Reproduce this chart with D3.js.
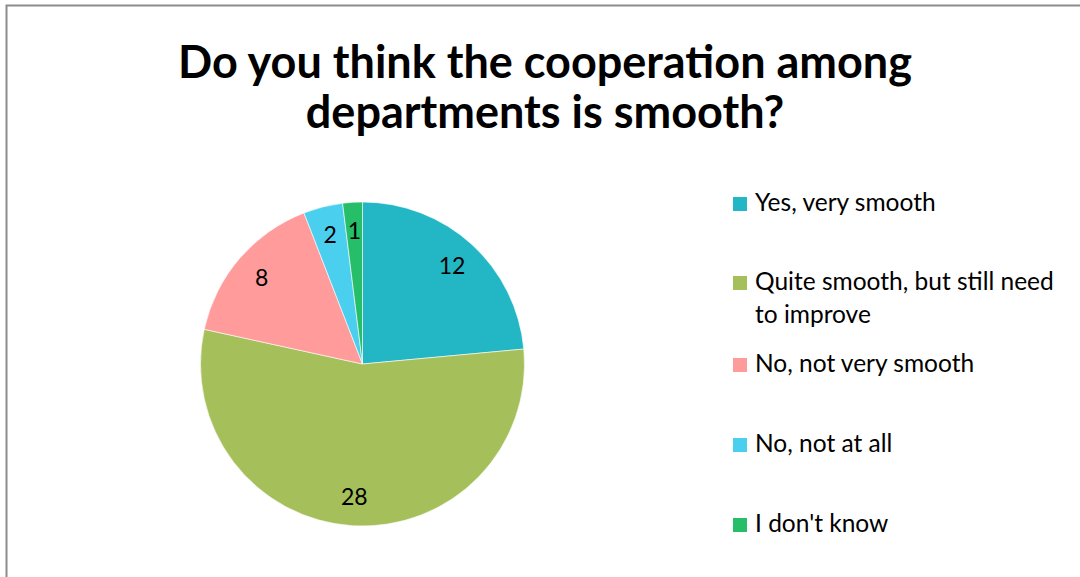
<!DOCTYPE html>
<html>
<head>
<meta charset="utf-8">
<script src="https://cdn.jsdelivr.net/npm/d3@7"></script>
<style>
  body { margin: 0; background: #fff; }
  svg { display: block; font-family: Lato, "Open Sans", sans-serif; }
</style>
</head>
<body>
<svg id="chart" width="1080" height="577"></svg>
<script>
var categories = ["Yes, very smooth", "Quite smooth, but still need to improve", "No, not very smooth", "No, not at all", "I don't know"];
var legend_lines = [["Yes, very smooth"], ["Quite smooth, but still need", "to improve"], ["No, not very smooth"], ["No, not at all"], ["I don't know"]];
var values = [12, 28, 8, 2, 1];
var colors = ["#23b6c5", "#a5bf5a", "#ff9b9b", "#4bcfee", "#27be6a"];
var title_lines = ["Do you think the cooperation among", "departments is smooth?"];

var svg = d3.select("#chart");

// chart frame (only top and left edges are visible in the picture)
svg.append("rect")
    .attr("x", 6.5).attr("y", 5.5)
    .attr("width", 1200).attr("height", 700)
    .attr("fill", "none")
    .attr("stroke", "#8c8c8c")
    .attr("stroke-width", 2);

svg.append("g").selectAll("text")
    .data(title_lines)
    .enter()
    .append("text")
    .attr("x", 545)
    .attr("y", function(d, i) { return 78 + i * 50; })
    .attr("text-anchor", "middle")
    .style("font-size", "45px")
    .style("font-weight", "bold")
    .attr("fill", "#000")
    .text(function(d) { return d; });

var cx = 362.5, cy = 364, radius = 162;
var pie = d3.pie().sort(null).value(function(d) { return d; });
var arc = d3.arc().innerRadius(0).outerRadius(radius);
var label_arc = d3.arc().innerRadius(radius * 0.82).outerRadius(radius * 0.82);

var g = svg.append("g").attr("transform", "translate(" + cx + "," + cy + ")");
var arcs = pie(values);

g.selectAll("path")
    .data(arcs)
    .enter()
    .append("path")
    .attr("d", arc)
    .attr("fill", function(d, i) { return colors[i]; })
    .attr("stroke", "#fff")
    .attr("stroke-width", 0.6);

g.selectAll(".lbl")
    .data(arcs)
    .enter()
    .append("text")
    .attr("class", "lbl")
    .attr("transform", function(d) { return "translate(" + label_arc.centroid(d) + ")"; })
    .attr("text-anchor", "middle")
    .attr("dy", "0.35em")
    .style("font-size", "23px")
    .attr("fill", "#000")
    .text(function(d) { return d.data; });

// legend
var legend_y = [197, 276, 358, 438, 518];
var legend = svg.append("g");
var items = legend.selectAll("g")
    .data(categories)
    .enter()
    .append("g")
    .attr("transform", function(d, i) { return "translate(733," + legend_y[i] + ")"; });

items.append("rect")
    .attr("width", 14).attr("height", 14)
    .attr("fill", function(d, i) { return colors[i]; });

items.each(function(d, i) {
    var t = d3.select(this).append("text")
        .attr("x", 22)
        .attr("y", 14)
        .style("font-size", "24.5px")
        .attr("fill", "#000");
    legend_lines[i].forEach(function(line, j) {
        t.append("tspan")
            .attr("x", 22)
            .attr("dy", j == 0 ? 0 : 33)
            .text(line);
    });
});
</script>
</body>
</html>
